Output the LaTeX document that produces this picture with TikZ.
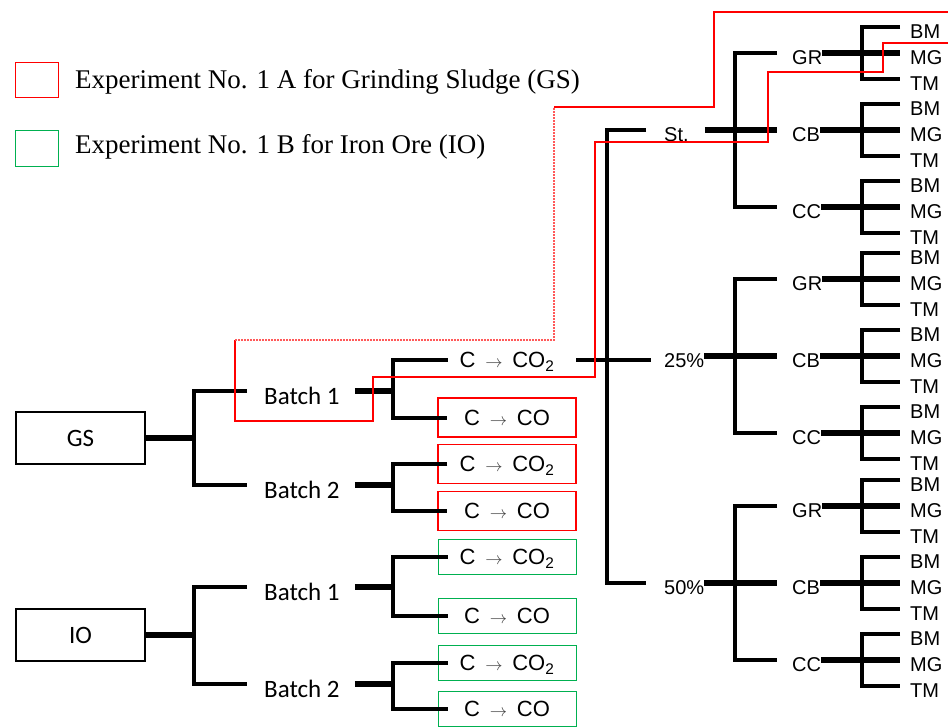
\documentclass[tikz,border=0pt]{standalone}
\usepackage{fontspec}
\setmainfont{Liberation Serif}
\newfontfamily\arialf{Liberation Sans}
\newfontfamily\calibrif{Carlito}
\usetikzlibrary{positioning,calc}

\definecolor{expred}{RGB}{255,0,0}
\definecolor{expgreen}{RGB}{0,176,80}
\newcommand{\reacto}{\,{\color{black!75}\fontsize{17}{17}\selectfont$\rightarrow$}\,}

\tikzset{
  br/.style={line width=4pt},
  stem/.style={line width=5.5pt},
  src/.style={draw,line width=1.3pt,minimum width=129pt,minimum height=52pt,
    font=\calibrif\fontsize{25}{25}\selectfont},
  batch/.style={inner sep=0pt,anchor=west,text height=26pt,text depth=0pt,
    font=\calibrif\fontsize{25}{25}\selectfont},
  react/.style={inner sep=0pt,minimum width=138pt,text height=15.8pt,text depth=0pt,
    font=\arialf\fontsize{22}{22}\selectfont},
  rbox/.style={react,draw=expred,line width=1.1pt,minimum height=39pt},
  gbox/.style={react,draw=expgreen,line width=0.9pt,minimum height=35pt},
  tag/.style={inner sep=0pt,anchor=west,text height=22pt,text depth=0pt,
    font=\arialf\fontsize{20}{20}\selectfont},
  key/.style={inner sep=0pt,anchor=base west,font=\fontsize{27}{27}\selectfont},
}

\begin{document}
\begin{tikzpicture}[x=1pt,y=-1pt]
  \useasboundingbox (0,0) rectangle (948,726);

  % legend
  \node[draw=expred,line width=1pt,minimum width=43pt,minimum height=35pt] (keyA) at (36.5,79.5) {};
  \node[draw=expgreen,line width=1pt,minimum width=43pt,minimum height=36pt] (keyB) at (36.5,148) {};
  \node[key] (keyAtxt) at (75,88) {Experiment No. 1 A for Grinding Sludge (GS)};
  \node[key] (keyBtxt) at (75,153) {Experiment No. 1 B for Iron Ore (IO)};

  % samples and batches
  \node[src] (GS) at (80.5,438) {GS};
  \node[src] (IO) at (80.5,635) {IO};
  \foreach \s/\ya/\yb in {GS/391/485,IO/587/684} {
    \node[batch] (\s b1) at (264,\ya) {Batch 1};
    \node[batch] (\s b2) at (264,\yb) {Batch 2};
    \draw[stem] (\s.east) -- ++(48,0) coordinate (\s j);
    \draw[br] ([xshift=-17pt]\s b1.west) -| (\s j) |- ([xshift=-17pt]\s b2.west);
  }

  % reactions
  \foreach \b/\sa/\ya/\sb/\yb in {GSb1/react/360/rbox/417.5, GSb2/rbox/464/rbox/511,
                                  IOb1/gbox/556.5/gbox/615.5, IOb2/gbox/662.5/gbox/709} {
    \node[\sa] (\b t) at (507,\ya) {C \reacto{} CO\textsubscript{2}};
    \node[\sb] (\b u) at (507,\yb) {C \reacto{} CO};
    \draw[stem] ([xshift=15pt]\b.east) -- ([xshift=53pt]\b.east) coordinate (\b j);
    \draw[br] ([xshift=10pt]\b t.west) -| (\b j) |- ([xshift=10pt]\b u.west);
  }

  % levels
  \node[tag] (St) at (664,130) {St.};
  \node[tag] (P25) at (664,356) {25\%};
  \node[tag] (P50) at (664,583) {50\%};
  \draw[br] (GSb1t.east) -- ($(GSb1t.east -| P25.west)+(-13,0)$);
  \draw[br] ([xshift=-18pt]St.west) -| ($(GSb1t.east)+(31,0)$) |- ([xshift=-18pt]P50.west);

  % methods and leaves
  \foreach \g/\c/\gap in {St/130/16,P25/356/0,P50/583/0} {
    \node[tag] (\g GR) at (792,\c-77) {GR};
    \node[tag] (\g CB) at (792,\c) {CB};
    \node[tag] (\g CC) at (792,\c+77) {CC};
    \draw[stem] ([xshift=\gap]\g.east) -- ([xshift=-15pt]\g CB.west);
    \draw[br] ([xshift=-15pt]\g GR.west) -| ([xshift=-57pt]\g CB.west) |- ([xshift=-15pt]\g CC.west);
    \foreach \p in {GR,CB,CC} {
      \coordinate (\g\p K) at ($(\g\p.west)+(70,0)$);
      \draw[stem] (\g\p.east) -- ($(\g\p.west)+(108,0)$) coordinate (\g\p m);
      \coordinate (\g\p a) at ($(\g\p m)+(0,-26)$);
      \coordinate (\g\p b) at ($(\g\p m)+(0,26)$);
      \draw[br] (\g\p a) -| (\g\p K) |- (\g\p b);
      \node[tag,right=10pt of \g\p a] (\g\p BM) {BM};
      \node[tag,right=10pt of \g\p m] (\g\p MG) {MG};
      \node[tag,right=10pt of \g\p b] (\g\p TM) {TM};
    }
  }

  % highlighted path of experiment 1 A
  \draw[expred,line width=1.2pt] (948,43) -- (883,43) -- (883,72) -- (768,72) -- (768,142)
    -- (595,142) -- (595,377) -- (373,377) -- (373,421) -- (235,421) -- (235,340);
  \draw[expred!65,line width=1.1pt,dash pattern=on 2pt off 1pt] (235,340) -- (554,340) -- (554,107);
  \draw[expred,line width=1.2pt] (554,107) -- (714,107) -- (714,12) -- (948,12);
\end{tikzpicture}
\end{document}
